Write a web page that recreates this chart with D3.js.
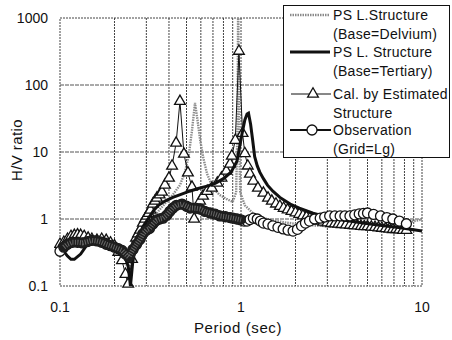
<!DOCTYPE html>
<html lang="en">
<head>
    <meta charset="UTF-8">
    <title>H/V ratio</title>
    <script src="https://d3js.org/d3.v7.min.js"></script>
    <style>
        body { margin: 0; background: #fff; }
        text { font-family: "Liberation Sans", Arial, sans-serif; fill: #111; }
    </style>
</head>
<body>
    <div id="chart"></div>

    <script>
        // PS L.Structure (Base=Delvium) [period, H/V]
        const delvium = [
            [0.100,0.45],[0.110,0.48],[0.120,0.52],[0.130,0.55],[0.145,0.52],[0.160,0.55],
            [0.180,0.52],[0.200,0.45],[0.215,0.35],[0.230,0.22],[0.240,0.18],[0.250,0.25],
            [0.270,0.45],[0.300,0.75],[0.340,1.2],[0.380,1.7],[0.420,2.3],[0.460,3.2],
            [0.490,5.0],[0.515,9],[0.535,20],[0.557,54],[0.575,30],[0.595,15],[0.620,8],
            [0.650,4.7],[0.700,2.9],[0.760,2.3],[0.830,2.0],[0.900,1.8],[0.940,2.5],
            [0.955,20],[0.965,2000],[0.975,20],[0.990,2.5],[1.050,1.6],[1.170,1.2],
            [1.300,1.05],[1.500,0.95],[1.800,0.88],[2.200,0.82],[3.000,0.78],[4.000,0.76],
            [5.500,0.78],[7.500,0.85],[10,0.98]
        ];

        // PS L. Structure (Base=Tertiary)
        const tertiary = [
            [0.100,0.36],[0.105,0.33],[0.110,0.28],[0.115,0.25],[0.120,0.25],[0.130,0.30],
            [0.140,0.40],[0.150,0.48],[0.165,0.52],[0.180,0.50],[0.195,0.44],[0.210,0.36],
            [0.225,0.30],[0.238,0.20],[0.245,0.10],[0.252,0.22],[0.262,0.42],[0.275,0.6],
            [0.290,0.8],[0.310,1.05],[0.330,1.35],[0.350,1.6],[0.380,1.85],[0.420,2.1],
            [0.470,2.35],[0.520,2.6],[0.580,2.85],[0.650,3.1],[0.720,3.4],[0.800,4.0],
            [0.880,5.0],[0.950,7.3],[1.010,18],[1.050,30],[1.080,37],[1.100,38],[1.130,26],
            [1.160,15],[1.190,8.5],[1.230,6.2],[1.270,5.0],[1.330,4.0],[1.400,3.2],
            [1.500,2.6],[1.640,2.1],[1.870,1.67],[2.100,1.45],[2.500,1.22],[3.100,1.05],
            [3.800,0.95],[4.700,0.87],[6.000,0.80],[7.600,0.74],[10,0.66]
        ];

        // Cal. by Estimated Structure
        const estimated = [
            [0.100,0.42],[0.105,0.45],[0.110,0.50],[0.115,0.55],[0.120,0.57],[0.125,0.58],
            [0.130,0.57],[0.136,0.55],[0.143,0.52],[0.150,0.50],[0.160,0.48],[0.170,0.50],
            [0.180,0.48],[0.190,0.44],[0.200,0.40],[0.210,0.32],[0.220,0.24],[0.230,0.15],
            [0.238,0.107],[0.250,0.25],[0.263,0.52],[0.270,0.60],[0.277,0.685],[0.287,0.87],
            [0.295,1.0],[0.302,1.11],[0.309,1.22],[0.316,1.36],[0.326,1.67],[0.335,1.85],
            [0.343,2.06],[0.355,2.3],[0.366,2.53],[0.380,3.22],[0.400,4.09],[0.416,6.19],
            [0.438,13.6],[0.460,57],[0.484,9.3],[0.509,4.9],[0.536,3.0],[0.551,1.0],
            [0.594,1.86],[0.617,2.2],[0.650,2.6],[0.690,2.9],[0.740,3.45],[0.780,4.1],
            [0.830,5.2],[0.870,6.6],[0.890,8.7],[0.930,15],[0.974,320],[1.020,19],
            [1.050,9.5],[1.090,6.2],[1.120,4.7],[1.170,3.7],[1.240,2.9],[1.330,2.44],
            [1.410,2.06],[1.480,1.85],[1.560,1.68],[1.640,1.55],[1.720,1.45],[1.810,1.37],
            [1.900,1.30],[2.000,1.24],[2.100,1.18],[2.200,1.12],[2.300,1.07],[2.400,1.02],
            [2.550,0.97],[2.700,0.93],[2.850,0.90],[3.000,0.88],[3.150,0.86],[3.300,0.85],
            [3.450,0.84],[3.600,0.83],[3.800,0.82],[4.000,0.81],[4.200,0.80],[4.400,0.79],
            [4.600,0.78],[4.800,0.77],[5.000,0.77],[5.250,0.76],[5.500,0.75],[5.750,0.74],
            [6.000,0.73],[6.300,0.72],[6.600,0.71],[6.900,0.70],[7.200,0.70],[7.500,0.69],
            [7.850,0.68],[8.200,0.68]
        ];

        // Observation (Grid=Lg)
        const observation = [
            [0.100,0.33],[0.105,0.38],[0.110,0.42],[0.117,0.45],[0.125,0.45],[0.133,0.44],
            [0.142,0.46],[0.150,0.48],[0.160,0.47],[0.170,0.45],[0.180,0.42],[0.190,0.40],
            [0.200,0.38],[0.210,0.36],[0.220,0.34],[0.230,0.30],[0.240,0.27],[0.253,0.35],
            [0.265,0.42],[0.277,0.50],[0.287,0.60],[0.300,0.68],[0.312,0.72],[0.326,0.84],
            [0.340,0.95],[0.355,1.0],[0.371,1.03],[0.390,1.15],[0.405,1.30],[0.421,1.46],
            [0.440,1.60],[0.472,1.67],[0.500,1.55],[0.523,1.46],[0.560,1.45],[0.594,1.41],
            [0.630,1.30],[0.675,1.23],[0.720,1.18],[0.763,1.11],[0.820,1.08],[0.870,1.05],
            [0.903,1.03],[0.950,1.00],[1.000,0.97],[1.040,0.93],[1.080,0.93],[1.120,0.98],
            [1.170,1.03],[1.230,1.0],[1.280,0.93],[1.330,0.87],[1.410,0.84],[1.500,0.79],
            [1.600,0.75],[1.710,0.71],[1.820,0.68],[1.940,0.66],[2.050,0.70],[2.160,0.79],
            [2.270,0.87],[2.390,0.93],[2.550,1.0],[2.740,1.03],[2.900,1.07],[3.090,1.11],
            [3.300,1.11],[3.530,1.11],[3.750,1.11],[4.000,1.11],[4.250,1.15],[4.500,1.19],
            [4.750,1.21],[5.000,1.23],[5.400,1.17],[5.900,1.11],[6.400,1.05],[6.900,1.00],
            [7.500,0.93],[8.200,0.85]
        ];

        const xLabels = [0.1, 1, 10];
        const yLabels = [0.1, 1, 10, 100, 1000];
        const legendLabels = [
            ["PS L.Structure", "(Base=Delvium)"],
            ["PS L. Structure", "(Base=Tertiary)"],
            ["Cal. by Estimated", "Structure"],
            ["Observation", "(Grid=Lg)"]
        ];

        const width = 452, height = 340;
        const svg = d3.select("#chart").append("svg")
            .attr("width", width)
            .attr("height", height);

        const x = d3.scaleLog().domain([0.1, 10]).range([60, 422]);
        const y = d3.scaleLog().domain([0.1, 1000]).range([286, 18]);

        const line = d3.line().x(d => x(d[0])).y(d => y(d[1]));

        // grid
        const grid = svg.append("g");
        grid.selectAll("line.v")
            .data(x.ticks().filter(t => t > 0.1 && t < 10))
            .join("line")
            .attr("x1", d => x(d)).attr("x2", d => x(d))
            .attr("y1", y(1000)).attr("y2", y(0.1))
            .attr("stroke", "#444").attr("stroke-width", 1)
            .attr("stroke-dasharray", "2,1");
        grid.selectAll("line.h")
            .data([1, 10, 100])
            .join("line")
            .attr("x1", x(0.1)).attr("x2", x(10))
            .attr("y1", d => y(d)).attr("y2", d => y(d))
            .attr("stroke", "#555").attr("stroke-width", 1)
            .attr("stroke-dasharray", "4,1");
        grid.append("rect")
            .attr("x", x(0.1)).attr("y", y(1000))
            .attr("width", x(10) - x(0.1)).attr("height", y(0.1) - y(1000))
            .attr("fill", "none").attr("stroke", "#444")
            .attr("stroke-dasharray", "2,1");

        // axis labels
        svg.append("g").selectAll("text")
            .data(yLabels)
            .join("text")
            .attr("x", 48).attr("y", d => y(d) + 5)
            .attr("text-anchor", "end")
            .attr("font-size", 14)
            .text(d => d);
        svg.append("g").selectAll("text")
            .data(xLabels)
            .join("text")
            .attr("x", d => x(d)).attr("y", 312)
            .attr("text-anchor", "middle")
            .attr("font-size", 14)
            .text(d => d);
        svg.append("text")
            .attr("x", 238).attr("y", 333)
            .attr("text-anchor", "middle")
            .attr("font-size", 15)
            .attr("letter-spacing", 0.6)
            .text("Period (sec)");
        svg.append("text")
            .attr("transform", "translate(22,150) rotate(-90)")
            .attr("text-anchor", "middle")
            .attr("font-size", 15)
            .attr("letter-spacing", 0.4)
            .text("H/V ratio");

        svg.append("clipPath").attr("id", "plot")
            .append("rect")
            .attr("x", x(0.1) - 6).attr("y", y(1000))
            .attr("width", x(10) - x(0.1) + 12).attr("height", y(0.1) - y(1000) + 4);

        const plot = svg.append("g").attr("clip-path", "url(#plot)");

        // Delvium: gray dotted
        plot.append("path")
            .datum(delvium)
            .attr("d", line)
            .attr("fill", "none")
            .attr("stroke", "#8a8a8a")
            .attr("stroke-width", 2.4)
            .attr("stroke-dasharray", "1.5,1");

        // Estimated: thin line with open triangles
        const tri = d3.symbol().type(d3.symbolTriangle).size(50);
        plot.append("path")
            .datum(estimated)
            .attr("d", line)
            .attr("fill", "none")
            .attr("stroke", "#111")
            .attr("stroke-width", 1);
        plot.append("g").selectAll("path")
            .data(estimated)
            .join("path")
            .attr("transform", d => `translate(${x(d[0])},${y(d[1])})`)
            .attr("d", tri)
            .attr("fill", "#fff")
            .attr("stroke", "#111")
            .attr("stroke-width", 1.3);

        // Tertiary: thick black
        plot.append("path")
            .datum(tertiary)
            .attr("d", line)
            .attr("fill", "none")
            .attr("stroke", "#111")
            .attr("stroke-width", 3);

        // Observation: open circles, dense part drawn as a dark band
        plot.append("g").selectAll("circle")
            .data(observation)
            .join("circle")
            .attr("cx", d => x(d[0]))
            .attr("cy", d => y(d[1]))
            .attr("r", 5)
            .attr("fill", "#fff")
            .attr("stroke", "#111")
            .attr("stroke-width", 1.3);
        const dense = observation.filter(d => d[0] > 0.1 && d[0] <= 1.0);
        plot.append("path")
            .datum(dense)
            .attr("d", line)
            .attr("fill", "none")
            .attr("stroke", "#1e1e1e")
            .attr("stroke-width", 10)
            .attr("stroke-linejoin", "round")
            .attr("stroke-linecap", "round");
        plot.append("path")
            .datum(dense)
            .attr("d", line)
            .attr("fill", "none")
            .attr("stroke", "#6a6a6a")
            .attr("stroke-width", 5)
            .attr("stroke-dasharray", "1,1.5");

        // legend
        const lg = svg.append("g");
        lg.append("rect")
            .attr("x", 283.5).attr("y", 5.5)
            .attr("width", 166).attr("height", 152)
            .attr("fill", "#fff").attr("stroke", "#111");

        const rows = [15, 52, 94, 130];
        lg.append("line")
            .attr("x1", 290).attr("x2", 330).attr("y1", rows[0]).attr("y2", rows[0])
            .attr("stroke", "#8a8a8a").attr("stroke-width", 2.4).attr("stroke-dasharray", "1.5,1");
        lg.append("line")
            .attr("x1", 290).attr("x2", 330).attr("y1", rows[1]).attr("y2", rows[1])
            .attr("stroke", "#111").attr("stroke-width", 3);
        lg.append("line")
            .attr("x1", 291).attr("x2", 331).attr("y1", rows[2]).attr("y2", rows[2])
            .attr("stroke", "#111").attr("stroke-width", 1);
        lg.append("path")
            .attr("transform", `translate(313,${rows[2]})`)
            .attr("d", tri)
            .attr("fill", "#fff").attr("stroke", "#111").attr("stroke-width", 1.3);
        lg.append("line")
            .attr("x1", 290).attr("x2", 331).attr("y1", rows[3]).attr("y2", rows[3])
            .attr("stroke", "#111").attr("stroke-width", 2.2);
        lg.append("circle")
            .attr("cx", 312).attr("cy", rows[3]).attr("r", 5)
            .attr("fill", "#fff").attr("stroke", "#111").attr("stroke-width", 1.3);

        legendLabels.forEach((pair, i) => {
            const t = lg.append("text")
                .attr("x", 333).attr("y", rows[i] + 5)
                .attr("font-size", 14)
                .attr("letter-spacing", 0.3);
            t.append("tspan").attr("x", 333).text(pair[0]);
            t.append("tspan").attr("x", 333).attr("dy", 19).text(pair[1]);
        });
    </script>
</body>
</html>
